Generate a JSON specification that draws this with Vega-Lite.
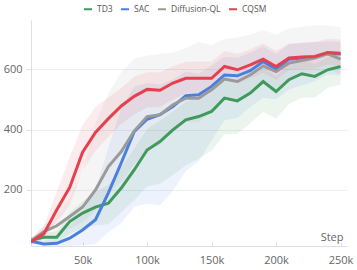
{
  "$schema": "https://vega.github.io/schema/vega-lite/v6.json",
  "width": 316,
  "height": 226,
  "autosize": "none",
  "padding": {"left": 31, "top": 20, "right": 10, "bottom": 24},
  "config": {
    "font": "Open Sans",
    "view": {"stroke": null},
    "axis": {"labelFont": "Open Sans", "labelFontSize": 11, "labelColor": "#666", "domainColor": "#e0e0e0", "tickColor": "#e0e0e0", "gridColor": "#eeeeee"}
  },
  "data": {
    "values": [
      {"s":"TD3","step":10000,"m":34,"lo":24,"hi":44},
      {"s":"TD3","step":20000,"m":43,"lo":28,"hi":58},
      {"s":"TD3","step":30000,"m":43,"lo":23,"hi":63},
      {"s":"TD3","step":40000,"m":95,"lo":55,"hi":125},
      {"s":"TD3","step":50000,"m":123,"lo":73,"hi":163},
      {"s":"TD3","step":60000,"m":143,"lo":83,"hi":193},
      {"s":"TD3","step":70000,"m":156,"lo":86,"hi":216},
      {"s":"TD3","step":80000,"m":206,"lo":126,"hi":276},
      {"s":"TD3","step":90000,"m":266,"lo":166,"hi":336},
      {"s":"TD3","step":100000,"m":332,"lo":212,"hi":402},
      {"s":"TD3","step":110000,"m":360,"lo":220,"hi":430},
      {"s":"TD3","step":120000,"m":399,"lo":249,"hi":459},
      {"s":"TD3","step":130000,"m":432,"lo":282,"hi":492},
      {"s":"TD3","step":140000,"m":443,"lo":303,"hi":503},
      {"s":"TD3","step":150000,"m":460,"lo":330,"hi":520},
      {"s":"TD3","step":160000,"m":504,"lo":384,"hi":564},
      {"s":"TD3","step":170000,"m":495,"lo":385,"hi":555},
      {"s":"TD3","step":180000,"m":521,"lo":421,"hi":571},
      {"s":"TD3","step":190000,"m":559,"lo":459,"hi":609},
      {"s":"TD3","step":200000,"m":526,"lo":436,"hi":576},
      {"s":"TD3","step":210000,"m":565,"lo":485,"hi":615},
      {"s":"TD3","step":220000,"m":585,"lo":505,"hi":635},
      {"s":"TD3","step":230000,"m":576,"lo":506,"hi":616},
      {"s":"TD3","step":240000,"m":598,"lo":538,"hi":638},
      {"s":"TD3","step":250000,"m":609,"lo":549,"hi":649},
      {"s":"SAC","step":10000,"m":30,"lo":20,"hi":40},
      {"s":"SAC","step":20000,"m":21,"lo":14,"hi":31},
      {"s":"SAC","step":30000,"m":23,"lo":14,"hi":43},
      {"s":"SAC","step":40000,"m":40,"lo":14,"hi":80},
      {"s":"SAC","step":50000,"m":67,"lo":17,"hi":127},
      {"s":"SAC","step":60000,"m":101,"lo":21,"hi":201},
      {"s":"SAC","step":70000,"m":190,"lo":60,"hi":340},
      {"s":"SAC","step":80000,"m":290,"lo":90,"hi":470},
      {"s":"SAC","step":90000,"m":393,"lo":143,"hi":543},
      {"s":"SAC","step":100000,"m":434,"lo":154,"hi":554},
      {"s":"SAC","step":110000,"m":449,"lo":149,"hi":549},
      {"s":"SAC","step":120000,"m":476,"lo":196,"hi":566},
      {"s":"SAC","step":130000,"m":512,"lo":262,"hi":592},
      {"s":"SAC","step":140000,"m":515,"lo":295,"hi":585},
      {"s":"SAC","step":150000,"m":543,"lo":363,"hi":613},
      {"s":"SAC","step":160000,"m":581,"lo":431,"hi":641},
      {"s":"SAC","step":170000,"m":578,"lo":438,"hi":638},
      {"s":"SAC","step":180000,"m":595,"lo":475,"hi":655},
      {"s":"SAC","step":190000,"m":625,"lo":505,"hi":675},
      {"s":"SAC","step":200000,"m":600,"lo":500,"hi":650},
      {"s":"SAC","step":210000,"m":633,"lo":533,"hi":683},
      {"s":"SAC","step":220000,"m":637,"lo":547,"hi":687},
      {"s":"SAC","step":230000,"m":640,"lo":560,"hi":690},
      {"s":"SAC","step":240000,"m":652,"lo":582,"hi":692},
      {"s":"SAC","step":250000,"m":650,"lo":580,"hi":690},
      {"s":"Diffusion-QL","step":10000,"m":30,"lo":20,"hi":40},
      {"s":"Diffusion-QL","step":20000,"m":62,"lo":42,"hi":82},
      {"s":"Diffusion-QL","step":30000,"m":81,"lo":51,"hi":115},
      {"s":"Diffusion-QL","step":40000,"m":112,"lo":72,"hi":175},
      {"s":"Diffusion-QL","step":50000,"m":143,"lo":93,"hi":260},
      {"s":"Diffusion-QL","step":60000,"m":200,"lo":130,"hi":420},
      {"s":"Diffusion-QL","step":70000,"m":277,"lo":187,"hi":520},
      {"s":"Diffusion-QL","step":80000,"m":327,"lo":227,"hi":590},
      {"s":"Diffusion-QL","step":90000,"m":395,"lo":285,"hi":635},
      {"s":"Diffusion-QL","step":100000,"m":443,"lo":333,"hi":645},
      {"s":"Diffusion-QL","step":110000,"m":449,"lo":349,"hi":650},
      {"s":"Diffusion-QL","step":120000,"m":482,"lo":392,"hi":655},
      {"s":"Diffusion-QL","step":130000,"m":504,"lo":424,"hi":670},
      {"s":"Diffusion-QL","step":140000,"m":504,"lo":424,"hi":690},
      {"s":"Diffusion-QL","step":150000,"m":532,"lo":462,"hi":680},
      {"s":"Diffusion-QL","step":160000,"m":567,"lo":507,"hi":700},
      {"s":"Diffusion-QL","step":170000,"m":559,"lo":499,"hi":705},
      {"s":"Diffusion-QL","step":180000,"m":581,"lo":521,"hi":715},
      {"s":"Diffusion-QL","step":190000,"m":611,"lo":551,"hi":730},
      {"s":"Diffusion-QL","step":200000,"m":592,"lo":532,"hi":715},
      {"s":"Diffusion-QL","step":210000,"m":620,"lo":570,"hi":735},
      {"s":"Diffusion-QL","step":220000,"m":629,"lo":579,"hi":740},
      {"s":"Diffusion-QL","step":230000,"m":637,"lo":587,"hi":745},
      {"s":"Diffusion-QL","step":240000,"m":651,"lo":601,"hi":745},
      {"s":"Diffusion-QL","step":250000,"m":633,"lo":583,"hi":740},
      {"s":"CQSM","step":10000,"m":28,"lo":20,"hi":36},
      {"s":"CQSM","step":20000,"m":55,"lo":40,"hi":80},
      {"s":"CQSM","step":30000,"m":134,"lo":94,"hi":194},
      {"s":"CQSM","step":40000,"m":208,"lo":148,"hi":308},
      {"s":"CQSM","step":50000,"m":325,"lo":265,"hi":415},
      {"s":"CQSM","step":60000,"m":390,"lo":330,"hi":475},
      {"s":"CQSM","step":70000,"m":436,"lo":376,"hi":506},
      {"s":"CQSM","step":80000,"m":478,"lo":418,"hi":538},
      {"s":"CQSM","step":90000,"m":510,"lo":450,"hi":575},
      {"s":"CQSM","step":100000,"m":533,"lo":473,"hi":590},
      {"s":"CQSM","step":110000,"m":530,"lo":475,"hi":590},
      {"s":"CQSM","step":120000,"m":554,"lo":499,"hi":610},
      {"s":"CQSM","step":130000,"m":570,"lo":520,"hi":625},
      {"s":"CQSM","step":140000,"m":570,"lo":520,"hi":625},
      {"s":"CQSM","step":150000,"m":570,"lo":520,"hi":625},
      {"s":"CQSM","step":160000,"m":609,"lo":564,"hi":660},
      {"s":"CQSM","step":170000,"m":598,"lo":553,"hi":650},
      {"s":"CQSM","step":180000,"m":614,"lo":569,"hi":665},
      {"s":"CQSM","step":190000,"m":633,"lo":588,"hi":685},
      {"s":"CQSM","step":200000,"m":609,"lo":564,"hi":660},
      {"s":"CQSM","step":210000,"m":637,"lo":597,"hi":685},
      {"s":"CQSM","step":220000,"m":640,"lo":600,"hi":688},
      {"s":"CQSM","step":230000,"m":642,"lo":602,"hi":690},
      {"s":"CQSM","step":240000,"m":655,"lo":615,"hi":700},
      {"s":"CQSM","step":250000,"m":653,"lo":613,"hi":698}
    ]
  },
  "encoding": {
    "x": {
      "field": "step", "type": "quantitative",
      "scale": {"domain": [10000, 255000], "nice": false, "zero": false},
      "axis": {
        "values": [50000, 100000, 150000, 200000, 250000],
        "labelExpr": "datum.value / 1000 + 'k'",
        "grid": false, "tickSize": -4, "labelPadding": 12,
        "title": "Step", "titleFont": "Open Sans", "titleFontSize": 11, "titleFontWeight": "normal", "titleColor": "#666",
        "titleAnchor": "end", "titleAlign": "right", "titleBaseline": "alphabetic", "titleX": 312, "titleY": -6
      }
    },
    "color": {
      "field": "s", "type": "nominal",
      "scale": {"domain": ["TD3", "SAC", "Diffusion-QL", "CQSM"], "range": ["#3f9a5c", "#4a7fde", "#9a9a9a", "#e6404e"]},
      "legend": {
        "orient": "none", "legendX": 52, "legendY": -16, "direction": "horizontal", "title": null,
        "symbolType": "stroke", "symbolStrokeWidth": 2, "symbolSize": 64, "symbolOpacity": 1,
        "labelFont": "Open Sans", "labelFontSize": 8.5, "labelColor": "#555", "labelOffset": 4, "columnPadding": 4
      }
    }
  },
  "layer": [
    {
      "mark": {"type": "area", "opacity": 0.1, "clip": true},
      "encoding": {
        "y": {"field": "lo", "type": "quantitative", "scale": {"domain": [14, 763], "nice": false, "zero": false}},
        "y2": {"field": "hi"}
      }
    },
    {
      "mark": {"type": "line", "strokeWidth": 3, "clip": true},
      "encoding": {
        "y": {
          "field": "m", "type": "quantitative",
          "axis": {"values": [200, 400, 600], "title": null, "tickSize": 5, "labelPadding": 4, "grid": true}
        }
      }
    }
  ]
}
